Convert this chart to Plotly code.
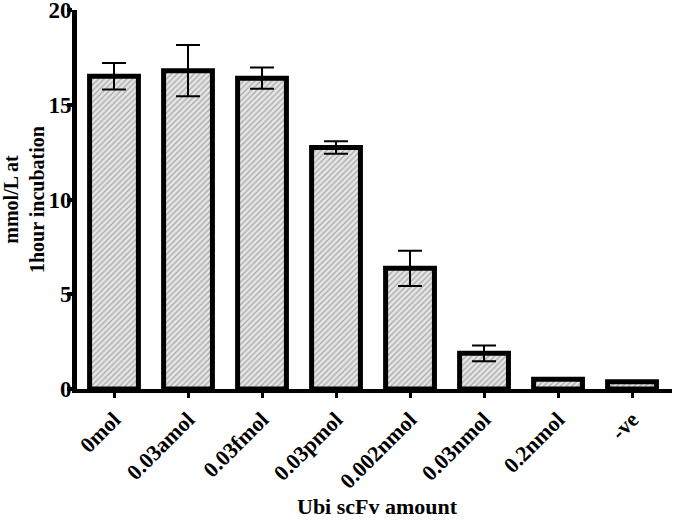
import plotly.graph_objects as go

categories = ["0mol", "0.03amol", "0.03fmol", "0.03pmol", "0.002nmol", "0.03nmol", "0.2nmol", "-ve"]
values = [16.5, 16.8, 16.4, 12.75, 6.37, 1.88, 0.52, 0.38]
errors = [0.7, 1.35, 0.56, 0.33, 0.93, 0.41, None, None]
y_ticks = [0, 5, 10, 15, 20]
x_title = "Ubi scFv amount"
y_title = "mmol/L at<br>1hour incubation"

FONT = "Liberation Serif"
L, R, T, B = 77, 3, 10, 131
W, H = 675, 520
pw, ph = W - L - R, H - T - B

fig = go.Figure()
fig.add_trace(go.Bar(
    x=categories,
    y=values,
    width=0.66,
    marker=dict(
        color="#e6e6e6",
        line=dict(color="black", width=5),
        pattern=dict(shape="/", size=4, solidity=0.35, fgcolor="#707070", bgcolor="#e6e6e6"),
    ),
    error_y=dict(type="data", array=errors, visible=True, color="black", thickness=2, width=12),
))

fig.update_layout(
    width=W, height=H,
    margin=dict(l=L, r=R, t=T, b=B),
    paper_bgcolor="white", plot_bgcolor="white",
    showlegend=False,
    font=dict(family=FONT, color="black", size=20, weight="bold"),
    annotations=[
        dict(text=x_title, xref="paper", yref="paper",
             x=(377 - L) / pw, y=-(492 - (H - B)) / ph,
             xanchor="center", yanchor="top", showarrow=False,
             font=dict(family=FONT, size=22, weight="bold")),
        dict(text=y_title, xref="paper", yref="paper",
             x=-(L - 24) / pw, y=((H - B) - 200) / ph,
             xanchor="center", yanchor="middle", showarrow=False, textangle=-90,
             font=dict(family=FONT, size=20, weight="bold")),
    ],
)
fig.update_xaxes(
    range=[-0.5, 7.54], automargin=False,
    showline=True, linecolor="black", linewidth=4,
    ticks="outside", ticklen=5, tickwidth=3, tickcolor="black",
    tickangle=-45,
    tickfont=dict(family=FONT, size=22, weight="bold"),
    showgrid=False, zeroline=False,
)
fig.update_yaxes(
    range=[0, 20], tickvals=y_ticks, automargin=False, ticklabeloverflow="allow",
    ticklabelstandoff=-9,
    showline=True, linecolor="black", linewidth=5,
    ticks="outside", ticklen=5, tickwidth=4, tickcolor="black",
    tickfont=dict(family=FONT, size=23, weight="bold"),
    showgrid=False, zeroline=False,
)

fig.write_html("out.html", config={"displayModeBar": False},
               post_script="document.body.style.margin='0';document.body.style.padding='0';")
